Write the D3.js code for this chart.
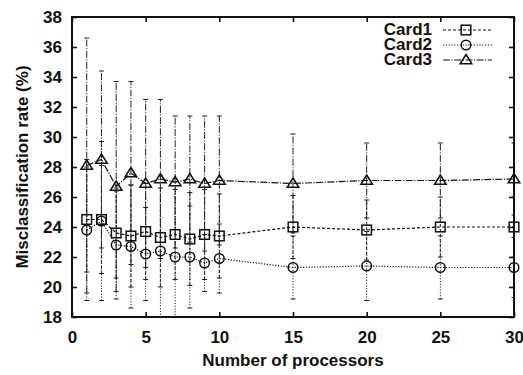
<!DOCTYPE html>
<html>
<head>
<meta charset="utf-8">
<script src="https://cdn.jsdelivr.net/npm/d3@7"></script>
<style>
  body { margin: 0; background: #fff; }
  svg text { font-family: "Liberation Sans", Arial, sans-serif; font-weight: bold; fill: #111; }
</style>
</head>
<body>
<svg width="523" height="375"></svg>
<script>
// data
const processors = [1, 2, 3, 4, 5, 6, 7, 8, 9, 10, 15, 20, 25, 30];

const card1 = [24.5, 24.5, 23.6, 23.4, 23.7, 23.3, 23.5, 23.2, 23.5, 23.4, 24.0, 23.8, 24.0, 24.0];
const card1Err = [3.5, 3.6, 3.0, 3.4, 3.2, 3.3, 3.0, 3.1, 3.0, 2.8, 2.1, 2.0, 2.0, 2.0];

const card2 = [23.8, 24.4, 22.8, 22.7, 22.2, 22.4, 22.0, 22.0, 21.6, 21.9, 21.3, 21.4, 21.3, 21.3];
const card2Err = [4.7, 5.3, 3.6, 4.1, 3.1, 5.0, 5.0, 3.4, 1.9, 2.3, 2.1, 2.3, 2.1, 2.0];

const card3 = [28.1, 28.5, 26.7, 27.6, 26.9, 27.2, 27.0, 27.2, 26.9, 27.1, 26.9, 27.1, 27.1, 27.2];
const card3Err = [8.5, 5.9, 7.0, 6.1, 5.6, 5.3, 4.4, 4.2, 4.5, 4.3, 3.3, 2.5, 2.5, 2.4];

const seriesNames = ['Card1', 'Card2', 'Card3'];
const xTicks = [0, 5, 10, 15, 20, 25, 30];
const yTicks = [18, 20, 22, 24, 26, 28, 30, 32, 34, 36, 38];

(function () {
  'use strict';

  const svg = d3.select('svg');
  const left = 72, right = 514, top = 17, bottom = 317;

  const xScale = d3.scaleLinear().domain([0, 30]).range([left, right]);
  const yScale = d3.scaleLinear().domain([18, 38]).range([bottom, top]);

  const series = [
    { name: seriesNames[0], values: card1, err: card1Err, dash: '3,2', marker: 'square' },
    { name: seriesNames[1], values: card2, err: card2Err, dash: '1.2,1.6', marker: 'circle' },
    { name: seriesNames[2], values: card3, err: card3Err, dash: '7,1.5,1.2,1.5', marker: 'triangle' }
  ];

  svg.append('clipPath').attr('id', 'plot')
    .append('rect')
    .attr('x', left).attr('y', top)
    .attr('width', right - left).attr('height', bottom - top);

  const plot = svg.append('g').attr('clip-path', 'url(#plot)');

  const drawMarker = (g, type, cx, cy) => {
    if (type === 'square') {
      g.append('rect')
        .attr('x', cx - 4.8).attr('y', cy - 4.8)
        .attr('width', 9.6).attr('height', 9.6);
    } else if (type === 'circle') {
      g.append('circle').attr('cx', cx).attr('cy', cy).attr('r', 4.8);
    } else {
      g.append('path')
        .attr('d', `M${cx},${cy - 5.5}L${cx + 5.8},${cy + 3.8}L${cx - 5.8},${cy + 3.8}Z`);
    }
  };

  // error bars
  series.forEach(s => {
    const g = plot.append('g')
      .attr('stroke', '#222')
      .attr('stroke-width', 1)
      .attr('stroke-dasharray', s.dash);
    processors.forEach((p, i) => {
      const lo = s.values[i] - s.err[i];
      const hi = s.values[i] + s.err[i];
      const px = xScale(p);
      g.append('line')
        .attr('x1', px).attr('x2', px)
        .attr('y1', yScale(lo)).attr('y2', yScale(hi));
      [lo, hi].forEach(v => {
        g.append('line')
          .attr('stroke-dasharray', 'none')
          .attr('x1', px - 2.5).attr('x2', px + 2.5)
          .attr('y1', yScale(v)).attr('y2', yScale(v));
      });
    });
  });

  // lines and markers
  const line = d3.line()
    .x((d, i) => xScale(processors[i]))
    .y(d => yScale(d));

  series.forEach(s => {
    plot.append('path')
      .datum(s.values)
      .attr('fill', 'none')
      .attr('stroke', '#111')
      .attr('stroke-width', 1.2)
      .attr('stroke-dasharray', s.dash)
      .attr('d', line);

    const mg = svg.append('g')
      .attr('fill', 'none')
      .attr('stroke', '#111')
      .attr('stroke-width', 1.5);
    s.values.forEach((v, i) => drawMarker(mg, s.marker, xScale(processors[i]), yScale(v)));
  });

  // axes (ticks on all four sides, pointing inward)
  const xAxisB = d3.axisBottom(xScale).tickValues(xTicks).tickSize(-5).tickPadding(14);
  const xAxisT = d3.axisTop(xScale).tickValues(xTicks).tickSize(-5).tickFormat('');
  const yAxisL = d3.axisLeft(yScale).tickValues(yTicks).tickSize(-5).tickPadding(10);
  const yAxisR = d3.axisRight(yScale).tickValues(yTicks).tickSize(-5).tickFormat('');

  const styleAxis = g => {
    g.select('.domain').remove();
    g.selectAll('.tick line').attr('stroke', '#111').attr('stroke-width', 1.6);
    g.selectAll('.tick text')
      .attr('font-size', 17)
      .attr('font-family', '"Liberation Sans", Arial, sans-serif')
      .attr('fill', '#111');
  };

  svg.append('g').attr('transform', `translate(0,${bottom})`).call(xAxisB).call(styleAxis);
  svg.append('g').attr('transform', `translate(0,${top})`).call(xAxisT).call(styleAxis);
  svg.append('g').attr('transform', `translate(${left},0)`).call(yAxisL).call(styleAxis);
  svg.append('g').attr('transform', `translate(${right},0)`).call(yAxisR).call(styleAxis);

  svg.append('rect')
    .attr('x', left).attr('y', top)
    .attr('width', right - left).attr('height', bottom - top)
    .attr('fill', 'none')
    .attr('stroke', '#111')
    .attr('stroke-width', 2);

  // axis titles
  svg.append('text')
    .attr('x', (left + right) / 2)
    .attr('y', 366)
    .attr('text-anchor', 'middle')
    .attr('font-size', 17)
    .text('Number of processors');

  svg.append('text')
    .attr('transform', `translate(28,${(top + bottom) / 2}) rotate(-90)`)
    .attr('text-anchor', 'middle')
    .attr('font-size', 17)
    .text('Misclassification rate (%)');

  // legend
  const legend = svg.append('g');
  series.forEach((s, i) => {
    const ly = 30 + i * 15;
    legend.append('text')
      .attr('x', 432).attr('y', ly + 5)
      .attr('text-anchor', 'end')
      .attr('font-size', 17)
      .text(s.name);
    legend.append('line')
      .attr('x1', 443).attr('x2', 492)
      .attr('y1', ly).attr('y2', ly)
      .attr('stroke', '#111')
      .attr('stroke-width', 1.2)
      .attr('stroke-dasharray', s.dash);
    const mg = legend.append('g')
      .attr('fill', 'none')
      .attr('stroke', '#111')
      .attr('stroke-width', 1.5);
    drawMarker(mg, s.marker, 466, ly);
  });
}());
</script>
</body>
</html>
